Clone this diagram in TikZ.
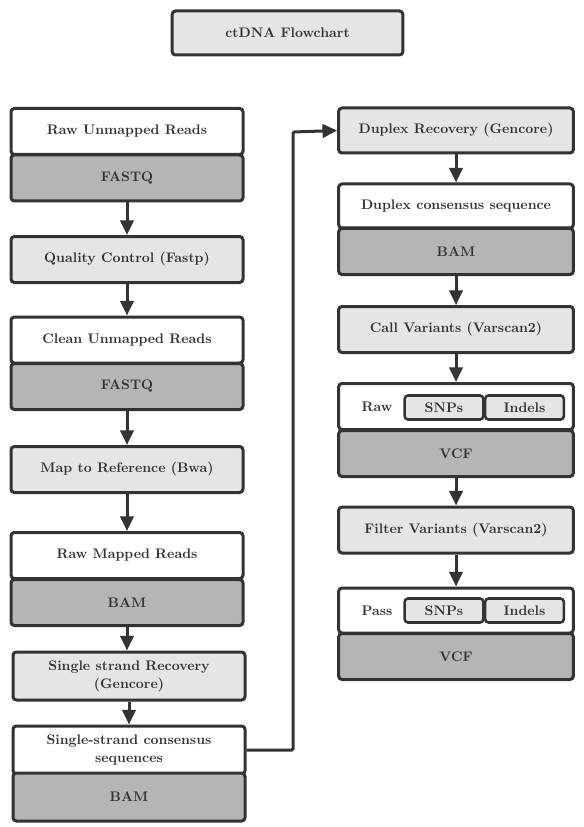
\documentclass[tikz,border=0pt]{standalone}
\usepackage{fontspec}
\usetikzlibrary{arrows.meta}

\definecolor{toolgray}{HTML}{E5E5E5}
\definecolor{filegray}{HTML}{B5B5B5}
\definecolor{inkgray}{HTML}{333333}

\newcommand{\boxfont}{\fontsize{10.4}{13.5}\selectfont\bfseries\addfontfeature{FakeBold=0.6}}

\tikzset{
  box/.style={draw=inkgray, line width=2.25pt, rounded corners=2.5pt, text=inkgray,
    font=\boxfont, align=center, inner sep=0pt},
  lbox/.style={box, minimum width=174pt, minimum height=34.5pt},
  rbox/.style={box, minimum width=176pt, minimum height=34.5pt},
  tool/.style={fill=toolgray},
  reads/.style={fill=white},
  fileformat/.style={fill=filegray},
  tag/.style={box, fill=toolgray, line width=1.9pt, minimum width=59pt, minimum height=18pt},
  flow/.style={draw=inkgray, line width=2.25pt, -{Triangle[length=11pt,width=10pt]}},
}

\begin{document}
\begin{tikzpicture}[x=0.75pt,y=-0.75pt]
  \useasboundingbox (0,0) rectangle (584,827);

  % Titolo
  \node[box, tool, minimum width=173pt, minimum height=33pt] (title) at (287.5,33) {ctDNA Flowchart};

  % Colonna sinistra
  \node[lbox, reads] (rawun) at (127,131.5) {Raw Unmapped Reads};
  \node[lbox, fileformat] (fastqa) at (127,178) {FASTQ};
  \node[lbox, tool] (qc) at (127,259.5) {Quality Control (Fastp)};
  \node[lbox, reads] (clean) at (127,340) {Clean Unmapped Reads};
  \node[lbox, fileformat] (fastqb) at (127,386.5) {FASTQ};
  \node[lbox, tool] (bwa) at (127,469.5) {Map to Reference (Bwa)};
  \node[lbox, reads] (rawmap) at (127,555.5) {Raw Mapped Reads};
  \node[lbox, fileformat] (bama) at (127,602.5) {BAM};
  \node[lbox, tool, minimum height=36pt] (ssr) at (129,676) {Single strand Recovery\\(Gencore)};
  \node[lbox, reads, minimum height=36pt] (sscs) at (129,750) {Single-strand consensus\\sequences};
  \node[lbox, fileformat, minimum height=36pt] (bamb) at (129,797) {BAM};

  % Colonna destra
  \node[rbox, tool, minimum height=33.75pt] (duplex) at (456,130.5) {Duplex Recovery (Gencore)};
  \node[rbox, reads, minimum height=33pt] (dcs) at (456,206) {Duplex consensus sequence};
  \node[rbox, fileformat] (bamc) at (456,251.5) {BAM};
  \node[rbox, tool] (call) at (456,329.5) {Call Variants (Varscan2)};
  \node[rbox, reads] (rawvar) at (456,406.5) {};
  \node[rbox, fileformat] (vcfa) at (456,453.5) {VCF};
  \node[rbox, tool] (filter) at (456,530) {Filter Variants (Varscan2)};
  \node[rbox, reads, minimum height=33.75pt] (passvar) at (456,610.5) {};
  \node[rbox, fileformat] (vcfb) at (456,656.5) {VCF};

  % Varianti grezze e filtrate
  \node[text=inkgray, font=\boxfont] (rawlbl) at (377,407) {Raw};
  \node[tag] (snpa) at (444,407.5) {SNPs};
  \node[tag] (indela) at (524.5,407.5) {Indels};
  \node[text=inkgray, font=\boxfont] (passlbl) at (377,610.5) {Pass};
  \node[tag] (snpb) at (444,610.5) {SNPs};
  \node[tag] (indelb) at (524.5,610.5) {Indels};

  % Frecce
  \draw[flow] (fastqa) -- (qc);
  \draw[flow] (qc) -- (clean);
  \draw[flow] (fastqb) -- (bwa);
  \draw[flow] (bwa) -- (rawmap);
  \draw[flow] (bama.south) -- (bama.south |- ssr.north);
  \draw[flow] (ssr) -- (sscs);
  \draw[flow] (duplex) -- (dcs);
  \draw[flow] (bamc) -- (call);
  \draw[flow] (call) -- (rawvar);
  \draw[flow] (vcfa) -- (filter);
  \draw[flow] (filter) -- (passvar);

  % Dal ramo singolo al duplex
  \coordinate (turn) at (293,132);
  \draw[flow, rounded corners=1pt] (sscs.east) -| (turn) -- (duplex.west);
\end{tikzpicture}
\end{document}
